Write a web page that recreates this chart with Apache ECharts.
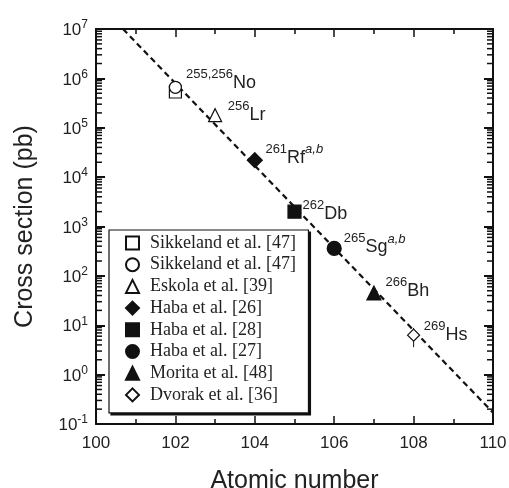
<!DOCTYPE html>
<html lang="en">
<head>
    <meta charset="UTF-8">
    <title>Cross section vs atomic number</title>
    <script src="https://cdn.jsdelivr.net/npm/echarts@6/dist/echarts.min.js"></script>
    <style>
        html, body { margin: 0; padding: 0; background: #fff; }
        #main { width: 509px; height: 488px; }
    </style>
</head>
<body>
<div id="main"></div>
<script>
    // data
    var seriesNames = ['Sikkeland et al. [47]', 'Sikkeland et al. [47]\u00a0', 'Eskola et al. [39]', 'Haba et al. [26]',
        'Haba et al. [28]', 'Haba et al. [27]', 'Morita et al. [48]', 'Dvorak et al. [36]'];
    var atomicNumber = [102, 102, 103, 104, 105, 106, 107, 108];
    var crossSection = [5.3e5, 6.6e5, 1.8e5, 2.2e4, 2.0e3, 3.6e2, 45, 6.3];
    var massNumber = ['', '255,256', '256', '261', '262', '265', '266', '269'];
    var element = ['', 'No', 'Lr', 'Rf', 'Db', 'Sg', 'Bh', 'Hs'];
    var note = ['', '', '', 'a,b', '', 'a,b', '', ''];

    // dashed systematics line
    var fitZ = [100.68, 110];
    var fitSigma = [1e7, 0.17];

    // error bar (Hs)
    var errZ = [108];
    var errLow = [3.6];
    var errHigh = [8.8];

    // styles
    var symbols = ['rect', 'circle', 'triangle', 'diamond', 'rect', 'circle', 'triangle', 'diamond'];
    var filled = [false, false, false, true, true, true, true, false];
    var sizes = [12, 12, 13, 15, 13, 14, 14, 12];
    var labelOffsets = [[0, 0], [-1, -7], [0.5, -3], [-2.5, -5], [-4, -1], [-3, -4], [-1, -5], [-1.5, -3]];

    var sans = 'Liberation Sans, Arial, sans-serif';
    var serif = 'Liberation Serif, Times New Roman, serif';

    // minor log ticks 2..9 x 10^n
    var minorTicks = [];
    for (var n = -1; n < 7; n++) {
        for (var k = 2; k <= 9; k++) minorTicks.push(k * Math.pow(10, n));
    }

    var myChart = echarts.init(document.getElementById('main'));

    var series = [];
    for (var i = 0; i < seriesNames.length; i++) {
        var fmt = '';
        if (element[i]) {
            fmt = '{sup|' + massNumber[i] + '}{el|' + element[i] + '}' + (note[i] ? '{note|' + note[i] + '}' : '');
        }
        series.push({
            name: seriesNames[i],
            type: 'scatter',
            symbol: symbols[i],
            symbolSize: sizes[i],
            z: 5,
            itemStyle: {
                color: filled[i] ? '#111' : '#fff',
                borderColor: '#111',
                borderWidth: 1.2,
                opacity: 1
            },
            label: {
                show: !!fmt,
                position: 'right',
                offset: labelOffsets[i],
                formatter: fmt,
                rich: {
                    sup: { fontFamily: sans, fontSize: 13, color: '#222', lineHeight: 13, verticalAlign: 'top' },
                    el: { fontFamily: sans, fontSize: 18, color: '#222', lineHeight: 24, verticalAlign: 'bottom' },
                    note: { fontFamily: sans, fontSize: 13, color: '#222', fontStyle: 'italic', lineHeight: 13, verticalAlign: 'top' }
                }
            },
            data: [[atomicNumber[i], crossSection[i]]]
        });
    }

    series.push({
        name: 'fit',
        type: 'line',
        symbol: 'none',
        z: 3,
        lineStyle: { color: '#111', width: 2.2, type: [6, 4] },
        data: fitZ.map(function (z, j) { return [z, fitSigma[j]]; })
    });

    series.push({
        name: 'err',
        type: 'custom',
        z: 4,
        renderItem: function (params, api) {
            var top = api.coord([api.value(0), api.value(2)]);
            var bot = api.coord([api.value(0), api.value(1)]);
            return {
                type: 'line',
                shape: { x1: top[0], y1: top[1], x2: bot[0], y2: bot[1] },
                style: { stroke: '#111', lineWidth: 1 }
            };
        },
        data: errZ.map(function (z, j) { return [z, errLow[j], errHigh[j]]; })
    });

    // minor ticks of the log axis, on both sides of the frame
    series.push({
        name: 'minor',
        type: 'custom',
        z: 10,
        silent: true,
        clip: false,
        renderItem: function (params, api) {
            var l = api.coord([100, api.value(1)]);
            var r = api.coord([110, api.value(1)]);
            return {
                type: 'group',
                children: [
                    { type: 'line', shape: { x1: l[0], y1: l[1], x2: l[0] + 6, y2: l[1] }, style: { stroke: '#111', lineWidth: 1.5 } },
                    { type: 'line', shape: { x1: r[0], y1: r[1], x2: r[0] - 6, y2: r[1] }, style: { stroke: '#111', lineWidth: 1.5 } }
                ]
            };
        },
        data: minorTicks.map(function (v) { return [105, v]; })
    });

    var xBase = {
        type: 'value', min: 100, max: 110, interval: 2,
        axisLine: { onZero: false, lineStyle: { color: '#111', width: 2 } },
        axisTick: { inside: true, length: 8, lineStyle: { color: '#111', width: 1.5 } },
        minorTick: { show: true, splitNumber: 2, length: 5, lineStyle: { color: '#111', width: 1.5 } },
        splitLine: { show: false }
    };

    var yBase = {
        type: 'log', logBase: 10, min: 0.1, max: 1e7, interval: 1,
        axisLine: { lineStyle: { color: '#111', width: 2 } },
        axisTick: { inside: true, length: 9, lineStyle: { color: '#111', width: 2 } },
        splitLine: { show: false }
    };

    var legendBase = {
        data: seriesNames,
        orient: 'vertical',
        padding: [3, 8, 8, 16],
        itemGap: 1.7,
        itemWidth: 13,
        itemHeight: 13,
        borderWidth: 1.2,
        borderColor: '#111',
        textStyle: { fontFamily: serif, fontSize: 18, color: '#222', lineHeight: 20, padding: [0, 0, 0, 6] }
    };

    var option = {
        animation: false,
        backgroundColor: '#fff',
        grid: { left: 96, right: 16, top: 29, bottom: 64, outerBoundsMode: 'none' },
        legend: [
            // drop shadow copy, same layout, drawn underneath
            Object.assign({}, legendBase, {
                left: 111, top: 232, z: 3,
                backgroundColor: '#111',
                itemStyle: { color: '#111', borderColor: '#111' },
                textStyle: Object.assign({}, legendBase.textStyle, { color: '#111' })
            }),
            Object.assign({}, legendBase, {
                left: 109, top: 230, z: 6,
                backgroundColor: '#fff'
            })
        ],
        xAxis: [
            Object.assign({}, xBase, {
                position: 'bottom',
                name: 'Atomic number',
                nameLocation: 'middle',
                nameGap: 45,
                nameTextStyle: { fontFamily: sans, fontSize: 25, color: '#222' },
                axisLabel: { margin: 11, fontFamily: sans, fontSize: 17, color: '#222' }
            }),
            Object.assign({}, xBase, {
                position: 'top',
                axisLabel: { show: false }
            })
        ],
        yAxis: [
            Object.assign({}, yBase, {
                position: 'left',
                name: 'Cross section (pb)',
                nameLocation: 'middle',
                nameGap: 58,
                nameTextStyle: { fontFamily: sans, fontSize: 25, color: '#222' },
                axisLabel: {
                    margin: 8,
                    formatter: function (v) {
                        return '{b|10}{e|' + Math.round(Math.log10(v)) + '}';
                    },
                    rich: {
                        b: { fontFamily: sans, fontSize: 17, color: '#222', lineHeight: 20, verticalAlign: 'bottom' },
                        e: { fontFamily: sans, fontSize: 12, color: '#222', lineHeight: 12, verticalAlign: 'top' }
                    }
                }
            }),
            Object.assign({}, yBase, {
                position: 'right',
                axisLabel: { show: false }
            })
        ],
        series: series
    };

    myChart.setOption(option);
</script>
</body>
</html>
